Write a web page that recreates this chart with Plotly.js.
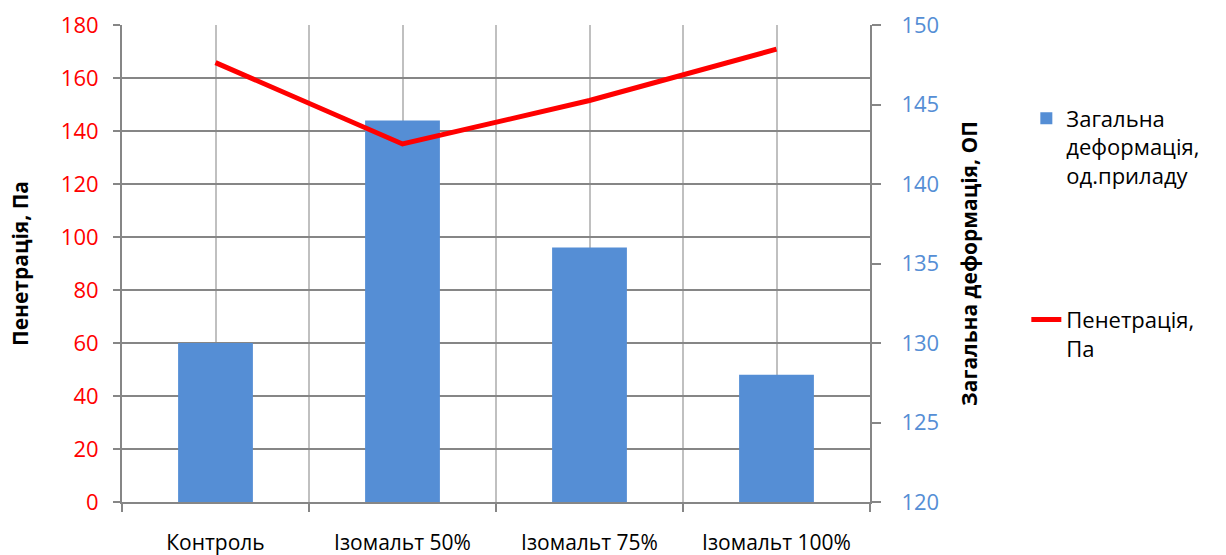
<!DOCTYPE html>
<html>
<head>
<meta charset="utf-8">
<script src="https://cdn.plot.ly/plotly-3.0.1.min.js"></script>
<style>html,body{margin:0;padding:0;background:#fff;}#chart{width:1226px;height:555px;}</style>
</head>
<body>
<div id="chart"></div>
<script>
const categories = ["Контроль", "Ізомальт 50%", "Ізомальт 75%", "Ізомальт 100%"];
const deformation = [130, 144, 136, 128];          // Загальна деформація, од.приладу (right axis)
const penetration = [165.8, 135.1, 151.5, 170.9];  // Пенетрація, Па (left axis)
const barName = "Загальна<br>деформація,<br>од.приладу";
const lineName = "Пенетрація,<br>Па";
const leftTicks = [0, 20, 40, 60, 80, 100, 120, 140, 160, 180];
const rightTicks = [120, 125, 130, 135, 140, 145, 150];

const FONT = "Open Sans, Noto Sans, sans-serif";
const GRID_H = "#868686";
const GRID_V = "#c0c0c0";

const traces = [
  {
    type: "bar", x: categories, y: deformation, name: barName,
    xaxis: "x", yaxis: "y",
    marker: {color: "#558ed5"}, legend: "legend"
  },
  {
    type: "scatter", mode: "lines", x: categories, y: penetration, name: lineName,
    xaxis: "x2", yaxis: "y2",
    line: {color: "#ff0000", width: 5}, legend: "legend2"
  }
];

const layout = {
  width: 1226, height: 555,
  margin: {l: 122, r: 356, t: 25, b: 53},
  paper_bgcolor: "#ffffff", plot_bgcolor: "#ffffff",
  font: {family: FONT, size: 22, color: "#000"},
  bargap: 0.6,
  showlegend: true,
  xaxis: {
    type: "category", tickson: "boundaries",
    showgrid: true, gridcolor: GRID_V, gridwidth: 2,
    showline: true, linecolor: GRID_H, linewidth: 2,
    ticks: "outside", ticklen: 8, tickcolor: GRID_H, tickwidth: 2,
    tickfont: {family: FONT, size: 21, color: "#000"},
    ticklabelstandoff: 21,
    zeroline: false
  },
  xaxis2: {
    overlaying: "x", anchor: "y", type: "category",
    range: [-0.5, categories.length - 0.5],
    showticklabels: false, ticks: "",
    showgrid: true, gridcolor: GRID_V, gridwidth: 2,
    zeroline: false, showline: false
  },
  yaxis: {
    side: "right", range: [120, 150], tickvals: rightTicks,
    showgrid: false, zeroline: false,
    showline: true, linecolor: GRID_H, linewidth: 2,
    ticks: "outside", ticklen: 9, tickcolor: GRID_H, tickwidth: 2,
    tickfont: {family: FONT, size: 22, color: "#558ed5"},
    ticklabelstandoff: 16,
    title: {text: "Загальна деформація, ОП", font: {family: FONT, size: 21, color: "#000", weight: "bold"}, standoff: 24}
  },
  yaxis2: {
    overlaying: "y", side: "left", range: [0, 180], tickvals: leftTicks,
    showgrid: true, gridcolor: GRID_H, gridwidth: 2, zeroline: false,
    showline: true, linecolor: GRID_H, linewidth: 2,
    ticks: "outside", ticklen: 7, tickcolor: GRID_H, tickwidth: 2,
    tickfont: {family: FONT, size: 22, color: "#ff0000"},
    ticklabelstandoff: 10,
    title: {text: "Пенетрація, Па", font: {family: FONT, size: 21, color: "#000", weight: "bold"}, standoff: 26}
  },
  legend: {
    x: 1.209, y: 0.848, xanchor: "left", yanchor: "top", valign: "top",
    font: {family: FONT, size: 22, color: "#000"}, bgcolor: "rgba(0,0,0,0)"
  },
  legend2: {
    x: 1.209, y: 0.426, xanchor: "left", yanchor: "top", valign: "top",
    font: {family: FONT, size: 22, color: "#000"}, bgcolor: "rgba(0,0,0,0)"
  }
};

Plotly.newPlot("chart", traces, layout, {displayModeBar: false, staticPlot: true});
</script>
</body>
</html>
